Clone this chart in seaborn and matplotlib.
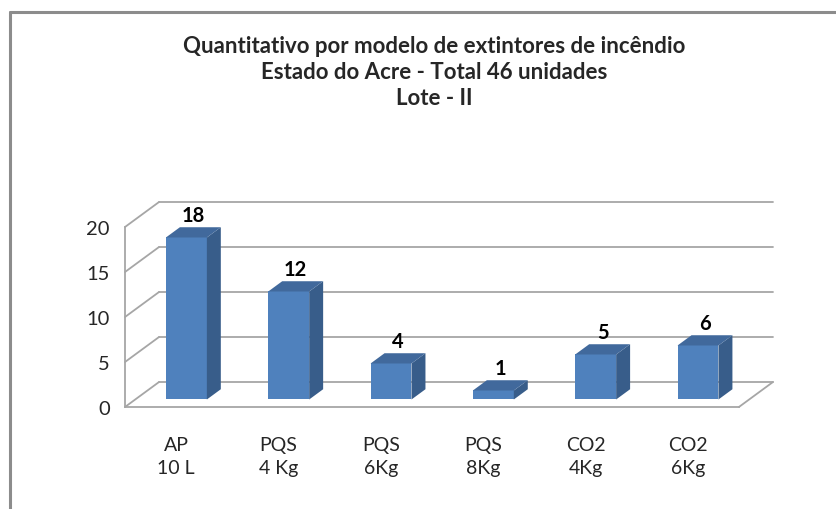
import matplotlib
matplotlib.use("Agg")
import matplotlib.pyplot as plt
import seaborn as sns

# data
modelos = ["AP\n10 L", "PQS\n4 Kg", "PQS\n6Kg", "PQS\n8Kg", "CO2\n4Kg", "CO2\n6Kg"]
quantidades = [18, 12, 4, 1, 5, 6]
y_ticks = [0, 5, 10, 15, 20]

titulo = ("Quantitativo por modelo de extintores de incêndio\n"
          "Estado do Acre - Total 46 unidades\n"
          "Lote - II")

# colours of the excel 3d column
frente = "#4F81BD"
topo = "#41699C"
lado = "#385D8A"
grade = "#A6A6A6"

# fake depth of the 3d box (in data units)
depth_x = 0.333
depth_y = 2.78
# bar sits inside the depth
bar_off = 0.30
bar_depth = 0.41

sns.set_style("white")
plt.rcParams["font.family"] = ["Lato", "DejaVu Sans"]

fig = plt.figure(figsize=(8.37, 5.10), dpi=100)
W, H = 837, 510
# axes in pixel coords: x from 125 to 773, y from 190 to 420, 9 px per unit
ax = fig.add_axes([125 / W, (H - 420) / H, 648 / W, 230 / H])

n = len(modelos)
x0, x1 = -0.5, n - 0.5

# back wall gridlines + side wall diagonals
for v in y_ticks:
    ax.plot([x0 + depth_x, x1 + depth_x], [v + depth_y, v + depth_y],
            color=grade, lw=1.3, zorder=1, clip_on=False)
    ax.plot([x0, x0 + depth_x], [v, v + depth_y],
            color=grade, lw=1.3, zorder=1, clip_on=False)
# floor
ax.plot([x1, x1 + depth_x], [0, depth_y], color=grade, lw=1.3, zorder=1, clip_on=False)

sns.barplot(x=modelos, y=quantidades, color=frente, saturation=1,
            width=0.4, ax=ax, zorder=3)

fx = bar_off * depth_x
fy = bar_off * depth_y
bdx = bar_depth * depth_x
bdy = bar_depth * depth_y
for p, val in zip(ax.patches, quantidades):
    p.set_x(p.get_x() + fx)
    p.set_y(fy)
    p.set_linewidth(0)
    left = p.get_x()
    right = left + p.get_width()
    top = fy + val
    # side face
    ax.fill([right, right + bdx, right + bdx, right],
            [fy, fy + bdy, top + bdy, top],
            color=lado, lw=0, zorder=3, clip_on=False)
    # top face
    ax.fill([left, right, right + bdx, left + bdx],
            [top, top, top + bdy, top + bdy],
            color=topo, lw=0, zorder=3, clip_on=False)
    ax.text(left + p.get_width() / 2 + bdx / 2, top + bdy + 0.25, str(val),
            ha="center", va="bottom", fontsize=14.5, fontweight="bold",
            color="black", zorder=4)

ax.set_xlim(x0, x1 + depth_x)
ax.set_ylim(-12 / 9, 218 / 9)

for s in ["top", "right"]:
    ax.spines[s].set_visible(False)
ax.spines["left"].set_bounds(0, 20)
ax.spines["bottom"].set_bounds(x0, x1)
ax.spines["bottom"].set_position(("data", 0))
for s in ["left", "bottom"]:
    ax.spines[s].set_color(grade)
    ax.spines[s].set_linewidth(1.3)

ax.set_yticks(y_ticks)
ax.set_yticklabels([str(t) for t in y_ticks], fontsize=14.5)
ax.set_xticks(range(n))
ax.set_xticklabels(modelos, fontsize=14, linespacing=1.45)
ax.set_xticks([i - 0.5 for i in range(n + 1)], minor=True)
ax.tick_params(axis="x", which="major", length=0, pad=21)
ax.tick_params(axis="x", which="minor", length=5, color=grade, width=1.3)
ax.tick_params(axis="y", length=5, color=grade, width=1.3, pad=6)
ax.set_xlabel("")
ax.set_ylabel("")

fig.text(434 / W, 1 - 36 / H, titulo, ha="center", va="top", fontsize=16,
         fontweight="bold", linespacing=1.3)

# chart frame (only top and left edge visible in the crop)
fig.add_artist(plt.Line2D([10 / W, 10 / W], [0, 1 - 13 / H], color="#8C8C8C", lw=2.2))
fig.add_artist(plt.Line2D([10 / W, 1], [1 - 13 / H, 1 - 13 / H], color="#8C8C8C", lw=2.2))

fig.savefig("out.png", dpi=100)
